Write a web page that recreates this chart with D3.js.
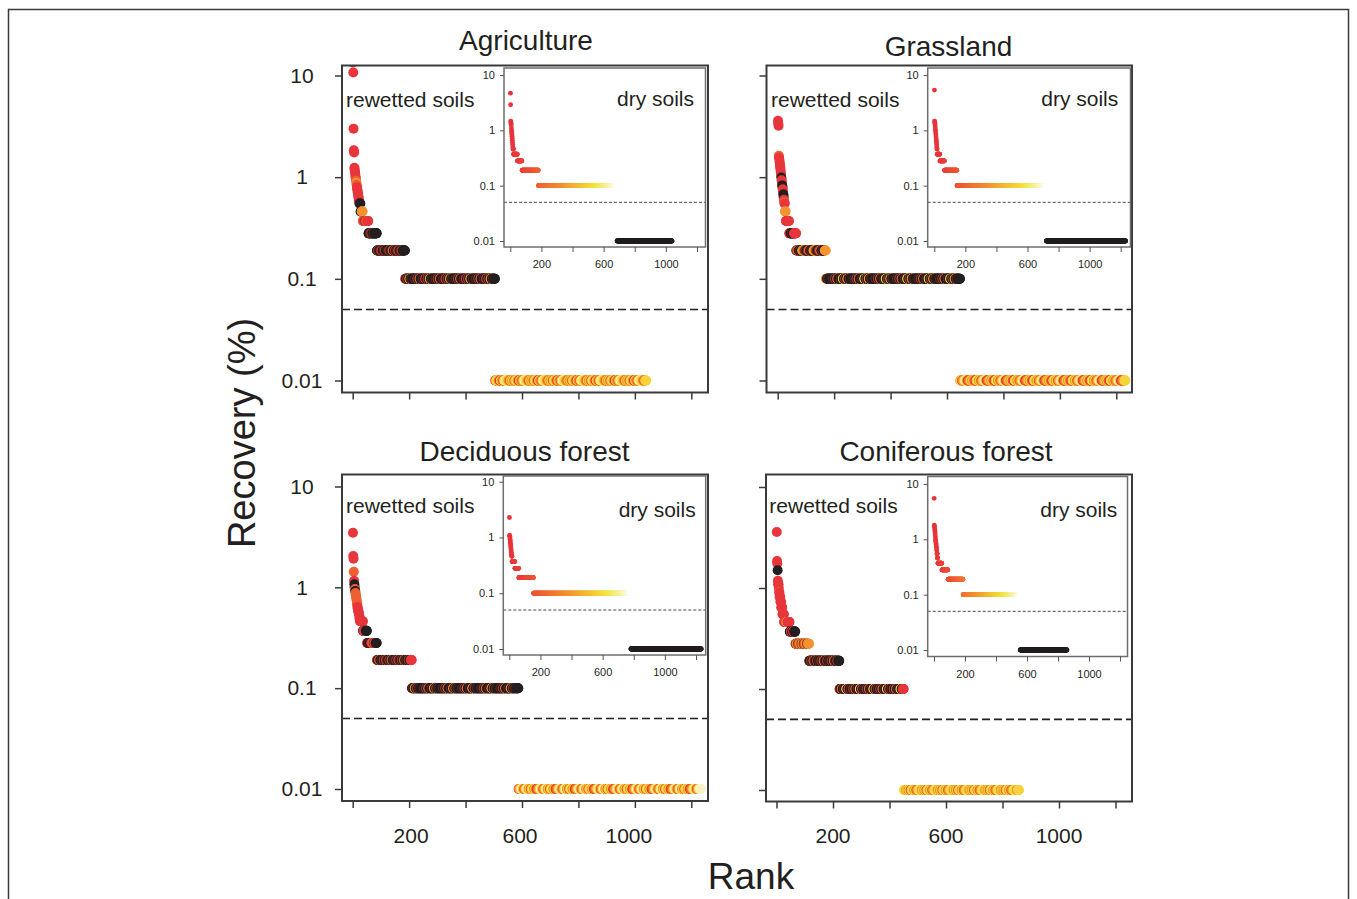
<!DOCTYPE html>
<html>
<head>
<meta charset="utf-8">
<script src="https://cdnjs.cloudflare.com/ajax/libs/d3/7.8.5/d3.min.js"></script>
<style>
  body { margin: 0; background: #fff; }
  svg text { font-family: "Liberation Sans", Arial, sans-serif; fill: #231f20; }
</style>
</head>
<body>
<div id="chart"></div>
<script>
// ---- data -------------------------------------------------------------
var panelNames = ["Agriculture", "Grassland", "Deciduous forest", "Coniferous forest"];
var yTickValues = [0.01, 0.1, 1, 10];
var yTickLabels = ["0.01", "0.1", "1", "10"];
var xTickValues = [0, 200, 400, 600, 800, 1000, 1200];
var xLabelValues = [200, 600, 1000];
var threshold = 0.05;      // dashed line
var notDetected = 0.01;    // samples below detection are plotted at 0.01

// rewetted soils: top-ranked samples one by one, then flat rows (value + number of samples)
var agriWetTop = [13.4, 10.7, 3.0, 1.84, 1.75, 1.24, 1.19, 1.13, 1.08, 1.02, 0.97, 0.92, 0.88, 0.84,
  0.8, 0.77, 0.74, 0.71, 0.68, 0.65, 0.62, 0.6, 0.58, 0.55, 0.55, 0.55, 0.55];
var agriWetRowValue = [0.46, 0.37, 0.28, 0.19, 0.1, 0.01];
var agriWetRowCount = [8, 20, 30, 100, 319, 536];
// dry soils (inset)
var agriDryTop = [4.7, 2.9, 1.47, 1.4, 1.32, 1.25, 1.1, 1.0, 0.92, 0.85, 0.78, 0.72, 0.66, 0.6,
  0.55, 0.5, 0.46, 0.46, 0.46, 0.46];
var agriDryRowValue = [0.37, 0.28, 0.19, 0.1, 0.01];
var agriDryRowCount = [25, 30, 105, 505, 355];

var grassWetTop = [3.58, 3.4, 3.2, 1.62, 1.55, 1.48, 1.4, 1.32, 1.25, 1.18, 1.12, 1.05, 0.99, 0.93,
  0.88, 0.83, 0.8, 0.76, 0.72, 0.68, 0.64, 0.6, 0.57, 0.55, 0.55, 0.46, 0.46, 0.46, 0.37, 0.37];
var grassWetRowValue = [0.37, 0.28, 0.19, 0.1, 0.01];
var grassWetRowCount = [10, 25, 105, 476, 586];
var grassDryTop = [5.35, 1.47, 1.4, 1.33, 1.25, 1.15, 1.05, 0.97, 0.9, 0.83, 0.76, 0.7, 0.65, 0.6,
  0.55, 0.5, 0.46, 0.46];
var grassDryRowValue = [0.37, 0.28, 0.19, 0.1, 0.01];
var grassDryRowCount = [17, 30, 80, 575, 512];

var decWetTop = [3.48, 2.04, 1.92, 1.43, 1.16, 1.07, 1.0, 0.96, 0.92, 0.88, 0.85, 0.81, 0.78, 0.74,
  0.7, 0.67, 0.64, 0.62, 0.6, 0.58, 0.56, 0.55, 0.53, 0.5, 0.48, 0.46];
var decWetRowValue = [0.46, 0.37, 0.28, 0.19, 0.1, 0.01];
var decWetRowCount = [10, 14, 35, 124, 378, 647];
var decDryTop = [2.28, 1.1, 1.05, 1.0, 0.93, 0.87, 0.82, 0.76, 0.71, 0.66, 0.62, 0.58, 0.54, 0.5,
  0.47, 0.46, 0.46];
var decDryRowValue = [0.37, 0.28, 0.19, 0.1, 0.01];
var decDryRowCount = [18, 25, 95, 625, 454];

var conWetTop = [3.58, 1.85, 1.75, 1.5, 1.18, 1.09, 1.09, 1.0, 0.91, 0.91, 0.82, 0.82, 0.82, 0.73,
  0.73, 0.73, 0.64, 0.64, 0.64, 0.64, 0.55, 0.55, 0.55, 0.55, 0.55, 0.55];
var conWetRowValue = [0.46, 0.37, 0.28, 0.19, 0.1, 0.01];
var conWetRowCount = [20, 20, 49, 107, 228, 408];
var conDryTop = [5.5, 1.8, 1.7, 1.6, 1.5, 1.4, 1.3, 1.2, 1.1, 1.0, 0.91, 0.91, 0.82, 0.82, 0.73,
  0.73, 0.64, 0.64, 0.55, 0.55, 0.55, 0.46, 0.46, 0.46];
var conDryRowValue = [0.37, 0.28, 0.19, 0.1, 0.01];
var conDryRowCount = [26, 40, 97, 368, 303];

// ---- styles -----------------------------------------------------------
var palette = { r: "#e8353b", o: "#ee5f32", a: "#f3932f", y: "#f6d33b", l: "#f3e54a",
  p: "#fbefc4", k: "#231f20", d: "#5e2620", b: "#9a3d27" };
// colour of each top sample, and colour stripes (4 samples per letter) along each row
var agriWetTopColours = "rrrrrrrrrrroaorrrrrrrrrkkdk";
var agriWetRowColours = ["ka", "orbor", "dbkdkk", "dbkdokbkdrkdbkk", "kdkbkokkdkrkbkakdk", "ayoylaryaoyplyaoy"];
var grassWetTopColours = "rrrorrrrrrrrkrrkkrrkkrooraaarr";
var grassWetRowColours = ["rr", "kdkrr", "abdkbokdka", "kdkbkokkdkykbkakdkk", "ayorylayoaypyroay"];
var decWetTopColours = "rrrorkkokooooooorrrrrrrrrr";
var decWetRowColours = ["rr", "rrk", "dkrobrk", "dkbkokdkbkr", "kdkbkokkdkakbkdkk", "ayoylayroaypyoalp"];
var conWetTopColours = "rrrkrrrrarrrrrrrrrrrarrrrr";
var conWetRowColours = ["rrarr", "rkrk", "boaba", "dkbkodkbk", "kdkbkokdkykr", "ayoylayoaylyay"];
var blockSize = 4;

// heat colours along the dry ranking
var heat = d3.scaleLinear()
  .domain([0, 0.1, 0.25, 0.47, 0.69, 0.81, 0.94, 1])
  .range(["#e8323a", "#ea3d38", "#ee5c33", "#f28c2f", "#f3c534", "#f2e43c", "#f8f3b0", "#ffffff"]);

var panels = [
  { name: panelNames[0], wetTop: agriWetTop, wetRowValue: agriWetRowValue, wetRowCount: agriWetRowCount,
    dryTop: agriDryTop, dryRowValue: agriDryRowValue, dryRowCount: agriDryRowCount,
    topColours: agriWetTopColours, rowColours: agriWetRowColours },
  { name: panelNames[1], wetTop: grassWetTop, wetRowValue: grassWetRowValue, wetRowCount: grassWetRowCount,
    dryTop: grassDryTop, dryRowValue: grassDryRowValue, dryRowCount: grassDryRowCount,
    topColours: grassWetTopColours, rowColours: grassWetRowColours },
  { name: panelNames[2], wetTop: decWetTop, wetRowValue: decWetRowValue, wetRowCount: decWetRowCount,
    dryTop: decDryTop, dryRowValue: decDryRowValue, dryRowCount: decDryRowCount,
    topColours: decWetTopColours, rowColours: decWetRowColours },
  { name: panelNames[3], wetTop: conWetTop, wetRowValue: conWetRowValue, wetRowCount: conWetRowCount,
    dryTop: conDryTop, dryRowValue: conDryRowValue, dryRowCount: conDryRowCount,
    topColours: conWetTopColours, rowColours: conWetRowColours }
];

// box = [left, top, right, bottom]; y / iy = pixel of 10 and of 0.01
var layout = [
  { box: [342, 65.5, 708, 392.5], y: [75.5, 380.5], x: [352.7, 691.3],
    inset: [504, 68, 705.5, 247], iy: [75, 241], ix: [510.3, 697],
    title: [526, 50], wetText: [346, 106.5], dryText: [694, 105.5], yLabels: true, xLabels: false, xdx: [0, 0, 0] },
  { box: [766.5, 65.5, 1132, 392.5], y: [75.5, 380.5], x: [777.7, 1116.3],
    inset: [927.7, 68, 1130.5, 247], iy: [75, 241], ix: [934.3, 1120.7],
    title: [948.5, 56], wetText: [771, 106.5], dryText: [1118.3, 105.5], yLabels: false, xLabels: false, xdx: [0, 0, 0] },
  { box: [342, 474.5, 708, 801], y: [486.5, 789], x: [352.7, 691.3],
    inset: [503.3, 476, 705.7, 655], iy: [481.7, 649], ix: [509.3, 696],
    title: [524.5, 461], wetText: [346, 513.3], dryText: [695.7, 516.7], yLabels: true, xLabels: true, xdx: [2, -2, -6] },
  { box: [766, 474.5, 1132, 801.5], y: [487, 790], x: [776.5, 1115.5],
    inset: [927.7, 476.5, 1127.5, 656.5], iy: [484, 650], ix: [934, 1120],
    title: [946, 461], wetText: [769.3, 513.3], dryText: [1117.3, 516.7], yLabels: false, xLabels: true, xdx: [0, 0, 0] }
];

// ranks 1..n: top samples first, then each flat row
function expand(top, rowValue, rowCount) {
  var out = [], rank = 0;
  top.forEach(function (v, i) { rank++; out.push({ rank: rank, value: v, row: -1, idx: i }); });
  rowValue.forEach(function (v, r) {
    for (var i = 0; i < rowCount[r]; i++) {
      rank++;
      out.push({ rank: rank, value: v, row: r, idx: i, n: rowCount[r] });
    }
  });
  return out;
}

function wetColour(p, d) {
  if (d.row < 0) return palette[p.topColours[d.idx]] || palette.r;
  var pat = p.rowColours[d.row];
  var block = Math.floor((d.n - 1 - d.idx) / blockSize);
  return palette[pat[pat.length - 1 - (block % pat.length)]];
}

var svg = d3.select("#chart").append("svg").attr("width", 1357).attr("height", 899);

svg.append("rect")
  .attr("x", 8.5).attr("y", 9.5).attr("width", 1340).attr("height", 900)
  .attr("fill", "none").attr("stroke", "#3a3a3a").attr("stroke-width", 1.5);

panels.forEach(function (p, k) {
  var L = layout[k];
  var b = L.box, ib = L.inset;
  var x = d3.scaleLinear().domain([0, 1200]).range(L.x);
  var y = d3.scaleLog().domain([10, 0.01]).range(L.y);
  var ix = d3.scaleLinear().domain([0, 1200]).range(L.ix);
  var iy = d3.scaleLog().domain([10, 0.01]).range(L.iy);

  var g = svg.append("g");

  g.append("clipPath").attr("id", "clip" + k).append("rect")
    .attr("x", b[0]).attr("y", b[1]).attr("width", b[2] - b[0]).attr("height", b[3] - b[1]);
  g.append("clipPath").attr("id", "iclip" + k).append("rect")
    .attr("x", ib[0]).attr("y", ib[1]).attr("width", ib[2] - ib[0]).attr("height", ib[3] - ib[1]);

  // title
  g.append("text").attr("x", L.title[0]).attr("y", L.title[1])
    .attr("text-anchor", "middle").style("font-size", "28px").text(p.name);

  // threshold
  g.append("line")
    .attr("x1", b[0]).attr("x2", b[2]).attr("y1", y(threshold)).attr("y2", y(threshold))
    .attr("stroke", "#231f20").attr("stroke-width", 1.6).attr("stroke-dasharray", "8,4");

  // rewetted soils
  var wet = expand(p.wetTop, p.wetRowValue, p.wetRowCount);
  g.append("g").attr("clip-path", "url(#clip" + k + ")")
    .selectAll("circle").data(wet).join("circle")
    .attr("cx", d => x(d.rank)).attr("cy", d => y(d.value)).attr("r", 5)
    .attr("fill", d => wetColour(p, d));

  g.append("rect")
    .attr("x", b[0]).attr("y", b[1]).attr("width", b[2] - b[0]).attr("height", b[3] - b[1])
    .attr("fill", "none").attr("stroke", "#3a3a3a").attr("stroke-width", 2);

  // axes
  var ya = g.append("g").attr("transform", "translate(" + b[0] + ",0)")
    .call(d3.axisLeft(y).tickValues(yTickValues).tickSize(7)
      .tickFormat((d, i) => L.yLabels ? yTickLabels[i] : ""));
  ya.select(".domain").remove();
  ya.selectAll("line").attr("stroke", "#3a3a3a").attr("stroke-width", 1.5);
  ya.selectAll("text").attr("x", 302 - b[0]).attr("text-anchor", "middle").style("font-size", "21px");

  var xa = g.append("g").attr("transform", "translate(0," + b[3] + ")")
    .call(d3.axisBottom(x).tickValues(xTickValues).tickSize(7).tickFormat(""));
  xa.select(".domain").remove();
  xa.selectAll("line").attr("stroke", "#3a3a3a").attr("stroke-width", 1.5);

  if (L.xLabels) {
    g.selectAll(".xlab").data(xLabelValues).join("text")
      .attr("x", (d, i) => x(d) + L.xdx[i]).attr("y", 843)
      .attr("text-anchor", "middle").style("font-size", "21px").text(d => d);
  }

  g.append("text").attr("x", L.wetText[0]).attr("y", L.wetText[1])
    .style("font-size", "21px").text("rewetted soils");

  // inset: dry soils
  g.append("rect")
    .attr("x", ib[0]).attr("y", ib[1]).attr("width", ib[2] - ib[0]).attr("height", ib[3] - ib[1])
    .attr("fill", "#fff");
  g.append("line")
    .attr("x1", ib[0]).attr("x2", ib[2]).attr("y1", iy(threshold)).attr("y2", iy(threshold))
    .attr("stroke", "#333").attr("stroke-width", 0.9).attr("stroke-dasharray", "3,2");

  var dry = expand(p.dryTop, p.dryRowValue, p.dryRowCount);
  var nDetected = dry.filter(d => d.value > notDetected).length;
  g.append("g").attr("clip-path", "url(#iclip" + k + ")")
    .selectAll("circle").data(dry).join("circle")
    .attr("cx", d => ix(d.rank)).attr("cy", d => iy(d.value)).attr("r", 2.4)
    .attr("fill", d => d.value > notDetected ? heat(d.rank / nDetected) : "#231f20");

  g.append("rect")
    .attr("x", ib[0]).attr("y", ib[1]).attr("width", ib[2] - ib[0]).attr("height", ib[3] - ib[1])
    .attr("fill", "none").attr("stroke", "#6e6e6e").attr("stroke-width", 1.5);

  var iya = g.append("g").attr("transform", "translate(" + ib[0] + ",0)")
    .call(d3.axisLeft(iy).tickValues(yTickValues).tickSize(4).tickFormat((d, i) => yTickLabels[i]));
  iya.select(".domain").remove();
  iya.selectAll("line").attr("stroke", "#555").attr("stroke-width", 1);
  iya.selectAll("text").attr("x", -9).style("font-size", "11px");

  var ixa = g.append("g").attr("transform", "translate(0," + ib[3] + ")")
    .call(d3.axisBottom(ix).tickValues(xTickValues).tickSize(5)
      .tickFormat(d => xLabelValues.indexOf(d) >= 0 ? d : ""));
  ixa.select(".domain").remove();
  ixa.selectAll("line").attr("stroke", "#555").attr("stroke-width", 1);
  ixa.selectAll("text").attr("y", 21).attr("dy", 0).style("font-size", "11px");

  g.append("text").attr("x", L.dryText[0]).attr("y", L.dryText[1])
    .attr("text-anchor", "end").style("font-size", "21px").text("dry soils");
});

// axis titles
svg.append("text")
  .attr("transform", "translate(255,433) rotate(-90)")
  .attr("text-anchor", "middle").style("font-size", "38px").text("Recovery (%)");
svg.append("text")
  .attr("x", 751).attr("y", 889)
  .attr("text-anchor", "middle").style("font-size", "37px").text("Rank");
</script>
</body>
</html>
